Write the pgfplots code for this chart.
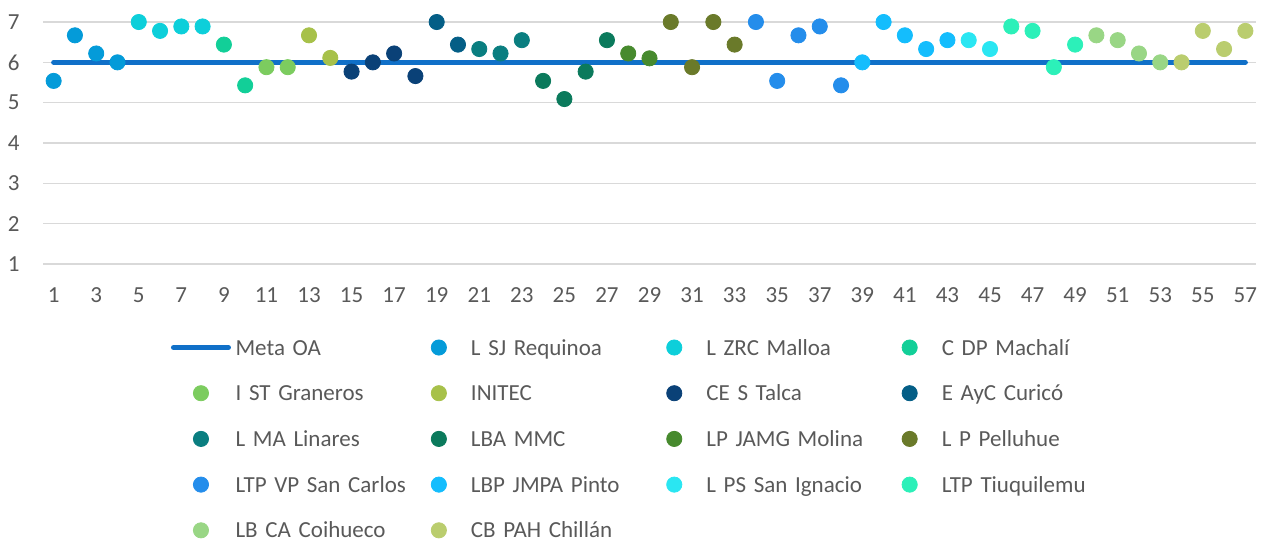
\documentclass[border=0pt]{standalone}
\usepackage{pgfplots}
\pgfplotsset{compat=1.18}
\usepackage{fontspec}
\setmainfont{Carlito}
\definecolor{labelgray}{RGB}{89,89,89}
\definecolor{gridgray}{RGB}{217,217,217}
\definecolor{meta}{RGB}{16,112,200}
\definecolor{c1}{RGB}{4,155,217}
\definecolor{c2}{RGB}{13,207,218}
\definecolor{c3}{RGB}{18,207,152}
\definecolor{c4}{RGB}{124,204,95}
\definecolor{c5}{RGB}{167,193,74}
\definecolor{c6}{RGB}{10,65,119}
\definecolor{c7}{RGB}{4,94,134}
\definecolor{c8}{RGB}{10,126,128}
\definecolor{c9}{RGB}{11,122,92}
\definecolor{c10}{RGB}{71,138,46}
\definecolor{c11}{RGB}{106,122,42}
\definecolor{c12}{RGB}{36,141,235}
\definecolor{c13}{RGB}{20,189,253}
\definecolor{c14}{RGB}{42,230,242}
\definecolor{c15}{RGB}{44,240,185}
\definecolor{c16}{RGB}{153,214,133}
\definecolor{c17}{RGB}{186,205,110}
\pgfplotsset{
  dot/.style={only marks, mark=*, mark size=3.8pt, color=#1,
    legend image code/.code={\path[draw=none,fill=none] (0pt,-1pt) rectangle (27.5pt,1pt);\draw[mark repeat=2,mark phase=2,##1] plot coordinates {(0pt,0pt) (13.75pt,0pt) (27.5pt,0pt)};}},
  metaline/.style={color=meta, line width=2.5pt, line cap=round, no marks,
    legend image code/.code={\draw[##1] (0pt,0pt) -- (27.5pt,0pt);}},
}
\begin{document}
\begin{tikzpicture}
\begin{axis}[
  scale only axis, width=606.5pt, height=121pt,
  xmin=0.5, xmax=57.5, ymin=1, ymax=7,
  xtick={1,3,...,57}, ytick={1,2,...,7},
  ymajorgrids, grid style={draw=gridgray, line width=0.75pt},
  axis line style={draw=none},
  major tick length=0pt,
  tick label style={font=\fontsize{11.5}{13}\selectfont, text=labelgray, inner sep=0pt},
  xticklabel={\pgfmathprintnumber[assume math mode=true]{\tick}},
  yticklabel={\pgfmathprintnumber[assume math mode=true]{\tick}},
  xticklabel style={anchor=north, yshift=-11.5pt},
  yticklabel style={anchor=east, xshift=-11.5pt},
  clip=false,
  legend columns=4,
  legend cell align=left,
  legend style={
    at={(0.1055,-0.3058)}, anchor=north west,
    draw=none, fill=none, inner sep=0pt, outer sep=0pt,
    row sep=13.35pt,
    font=\fontsize{11.5}{13}\selectfont,
    text=labelgray,
    nodes={inner sep=0pt, text height=8.5pt, text depth=1pt, text width=87.9pt, align=left},
    /tikz/every odd column/.append style={column sep=2.3pt},
    /tikz/every even column/.append style={column sep=0pt},
  },
]
\addplot[metaline] coordinates {(1,6) (57,6)};
\addlegendentry{Meta OA}
\addplot[dot=c1] coordinates {(1,5.54) (2,6.67) (3,6.22) (4,6.0)};
\addlegendentry{L SJ Requinoa}
\addplot[dot=c2] coordinates {(5,7.0) (6,6.78) (7,6.89) (8,6.89)};
\addlegendentry{L ZRC Malloa}
\addplot[dot=c3] coordinates {(9,6.44) (10,5.43)};
\addlegendentry{C DP Machalí}
\addplot[dot=c4] coordinates {(11,5.88) (12,5.88)};
\addlegendentry{I ST Graneros}
\addplot[dot=c5] coordinates {(13,6.67) (14,6.11)};
\addlegendentry{INITEC}
\addplot[dot=c6] coordinates {(15,5.77) (16,6.0) (17,6.22) (18,5.66)};
\addlegendentry{CE S Talca}
\addplot[dot=c7] coordinates {(19,7.0) (20,6.44)};
\addlegendentry{E AyC Curicó}
\addplot[dot=c8] coordinates {(21,6.33) (22,6.22) (23,6.55)};
\addlegendentry{L MA Linares}
\addplot[dot=c9] coordinates {(24,5.54) (25,5.09) (26,5.77) (27,6.55)};
\addlegendentry{LBA MMC}
\addplot[dot=c10] coordinates {(28,6.22) (29,6.1)};
\addlegendentry{LP JAMG Molina}
\addplot[dot=c11] coordinates {(30,7.0) (31,5.88) (32,7.0) (33,6.44)};
\addlegendentry{L P Pelluhue}
\addplot[dot=c12] coordinates {(34,7.0) (35,5.54) (36,6.67) (37,6.89) (38,5.43)};
\addlegendentry{LTP VP San Carlos}
\addplot[dot=c13] coordinates {(39,6.0) (40,7.0) (41,6.67) (42,6.33) (43,6.55)};
\addlegendentry{LBP JMPA Pinto}
\addplot[dot=c14] coordinates {(44,6.55) (45,6.33)};
\addlegendentry{L PS San Ignacio}
\addplot[dot=c15] coordinates {(46,6.89) (47,6.78) (48,5.88) (49,6.44)};
\addlegendentry{LTP Tiuquilemu}
\addplot[dot=c16] coordinates {(50,6.67) (51,6.55) (52,6.22) (53,6.0)};
\addlegendentry{LB CA Coihueco}
\addplot[dot=c17] coordinates {(54,6.0) (55,6.78) (56,6.33) (57,6.78)};
\addlegendentry{CB PAH Chillán}
\end{axis}
\pgfresetboundingbox
\useasboundingbox (-21.5pt,-137pt) rectangle (609pt,132pt);
\end{tikzpicture}
\end{document}
